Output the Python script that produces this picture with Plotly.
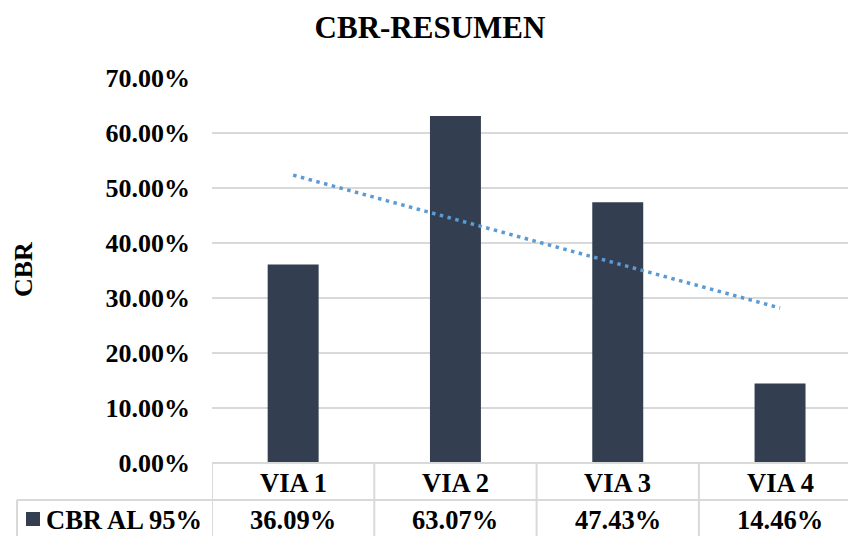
import numpy as np
import plotly.graph_objects as go

# Data
categories = ["VIA 1", "VIA 2", "VIA 3", "VIA 4"]
cbr_values = [36.09, 63.07, 47.43, 14.46]   # CBR al 95% (%)
series_name = "CBR AL 95%"
chart_title = "CBR-RESUMEN"
y_title = "CBR"
y_ticks = [0, 10, 20, 30, 40, 50, 60, 70]

# Styling
FONT = "Liberation Serif"
BAR_COLOR = "#333F50"
TREND_COLOR = "#5B9BD5"
GRID_COLOR = "#D9D9D9"

W, H = 848, 536
M_L, M_R, M_T, M_B = 212, 0, 78, 73
plot_w = W - M_L - M_R
plot_h = H - M_T - M_B
band_px = 162.3  # width of one category slot
x_range = [-0.5, -0.5 + plot_w / band_px]

def py(px):
    """pixel row -> paper y"""
    return (H - M_B - px) / plot_h

def px_x(px):
    """pixel column -> paper x"""
    return (px - M_L) / plot_w

# Linear trendline over category index
idx = np.arange(1, len(cbr_values) + 1)
slope, intercept = np.polyfit(idx, cbr_values, 1)
trend = slope * idx + intercept

fig = go.Figure()
fig.add_trace(go.Bar(
    x=categories, y=cbr_values, name=series_name,
    marker=dict(color=BAR_COLOR, line=dict(width=0)),
    width=0.314, showlegend=False,
))
fig.add_trace(go.Scatter(
    x=categories, y=trend, mode="lines",
    line=dict(color=TREND_COLOR, width=3.5, dash="3.5px,4.5px"),
    showlegend=False, hoverinfo="skip",
))

tick_font = dict(family=FONT, size=26, color="black", weight="bold")
table_font = dict(family=FONT, size=26.5, color="black", weight="bold")

shapes = []
line_style = dict(color=GRID_COLOR, width=2)
# table top border (category axis)
shapes.append(dict(type="line", xref="paper", yref="paper", x0=0, x1=1,
                   y0=0, y1=0, line=line_style, layer="above"))
# row separator spanning legend cell too
shapes.append(dict(type="line", xref="paper", yref="paper", x0=px_x(17), x1=1,
                   y0=py(500), y1=py(500), line=line_style))
# vertical cell borders
for k in range(len(categories)):
    shapes.append(dict(type="line", xref="x", yref="paper", x0=k - 0.5, x1=k - 0.5,
                       y0=0, y1=py(H + 5), line=line_style))
shapes.append(dict(type="line", xref="paper", yref="paper", x0=px_x(17), x1=px_x(17),
                   y0=py(500), y1=py(H + 5), line=line_style))
# legend key square
shapes.append(dict(type="rect", xref="paper", yref="paper",
                   x0=px_x(26), x1=px_x(40), y0=py(526), y1=py(512),
                   fillcolor=BAR_COLOR, line=dict(width=0)))

annotations = []
for k, (cat, val) in enumerate(zip(categories, cbr_values)):
    annotations.append(dict(x=k, y=py(483), xref="x", yref="paper", text=cat,
                            showarrow=False, font=table_font,
                            xanchor="center", yanchor="middle"))
    annotations.append(dict(x=k, y=py(520), xref="x", yref="paper", text=f"{val:.2f}%",
                            showarrow=False, font=table_font,
                            xanchor="center", yanchor="middle"))
annotations.append(dict(x=px_x(44), y=py(520), xref="paper", yref="paper", text=series_name,
                        showarrow=False, font=table_font, xanchor="left", yanchor="middle"))
annotations.append(dict(x=px_x(23), y=py(270), xref="paper", yref="paper", text=y_title,
                        showarrow=False, font=tick_font, textangle=-90,
                        xanchor="center", yanchor="middle"))

fig.update_layout(
    width=W, height=H,
    margin=dict(l=M_L, r=M_R, t=M_T, b=M_B, autoexpand=False),
    paper_bgcolor="white", plot_bgcolor="white",
    title=dict(text=chart_title, x=430 / W, xanchor="center", xref="container",
               y=1 - 27 / H, yanchor="middle", yref="container",
               font=dict(family=FONT, size=31, color="black", weight="bold")),
    bargap=0.686,
    xaxis=dict(range=x_range, showticklabels=False, showgrid=False,
               zeroline=False, showline=False, ticks=""),
    yaxis=dict(range=[0, 70], tickvals=y_ticks,
               ticktext=[f"{v:.2f}%" for v in y_ticks],
               showgrid=True, gridcolor=GRID_COLOR, gridwidth=2,
               zeroline=False, showline=False, ticks="",
               ticklabelstandoff=21, tickfont=tick_font),
    shapes=shapes, annotations=annotations,
)

fig.write_html("out.html")
